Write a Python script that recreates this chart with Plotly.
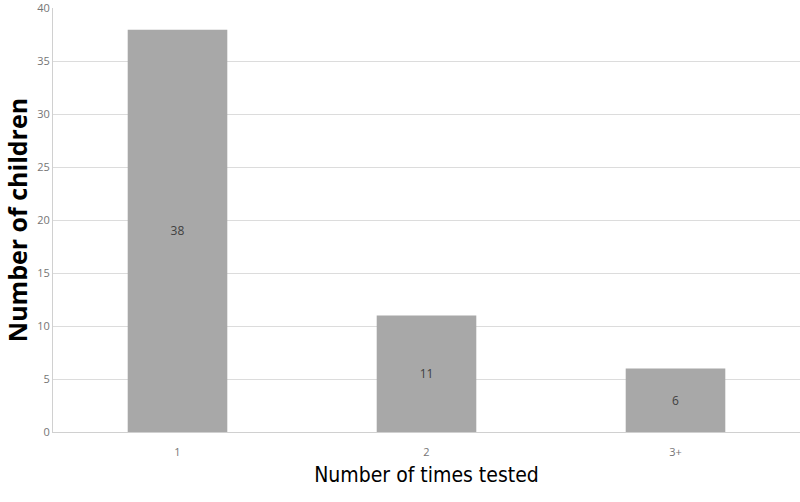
import plotly.graph_objects as go

categories = ["1", "2", "3+"]
children = [38, 11, 6]
y_ticks = [0, 5, 10, 15, 20, 25, 30, 35, 40]

fig = go.Figure()

fig.add_trace(go.Bar(
    x=categories,
    y=children,
    text=children,
    textposition="inside",
    insidetextanchor="middle",
    textfont=dict(color="#404040", size=12),
    marker=dict(color="#a8a8a8", line=dict(width=0)),
))

fig.update_layout(
    width=800, height=502,
    paper_bgcolor="white",
    plot_bgcolor="white",
    margin=dict(l=53, r=0, t=8, b=70),
    bargap=0.6,
    showlegend=False,
    font=dict(family="Open Sans", color="#757575"),
    xaxis=dict(
        title=dict(text="Number of times tested", font=dict(size=21, color="black", family="DejaVu Sans Condensed"), standoff=9),
        tickfont=dict(size=11, color="#757575"),
        showline=True, linecolor="#d0d0d0", linewidth=1,
        ticks="", ticklabelstandoff=10, automargin=False,
    ),
    yaxis=dict(
        title=dict(text="<b>Number of children</b>", font=dict(size=25, color="black", family="Open Sans"), standoff=13),
        range=[0, 40.05], tickvals=y_ticks,
        tickfont=dict(size=11, color="#757575"),
        showgrid=True, gridcolor="#dcdcdc", gridwidth=1,
        showline=True, linecolor="#d0d0d0", linewidth=1,
        zeroline=False, ticks="", automargin=False,
    ),
)

# drop the page's default body margin so the figure sits at the window corner
fig.write_html("out.html", config={"displayModeBar": False},
               post_script="document.body.style.margin='0';")
